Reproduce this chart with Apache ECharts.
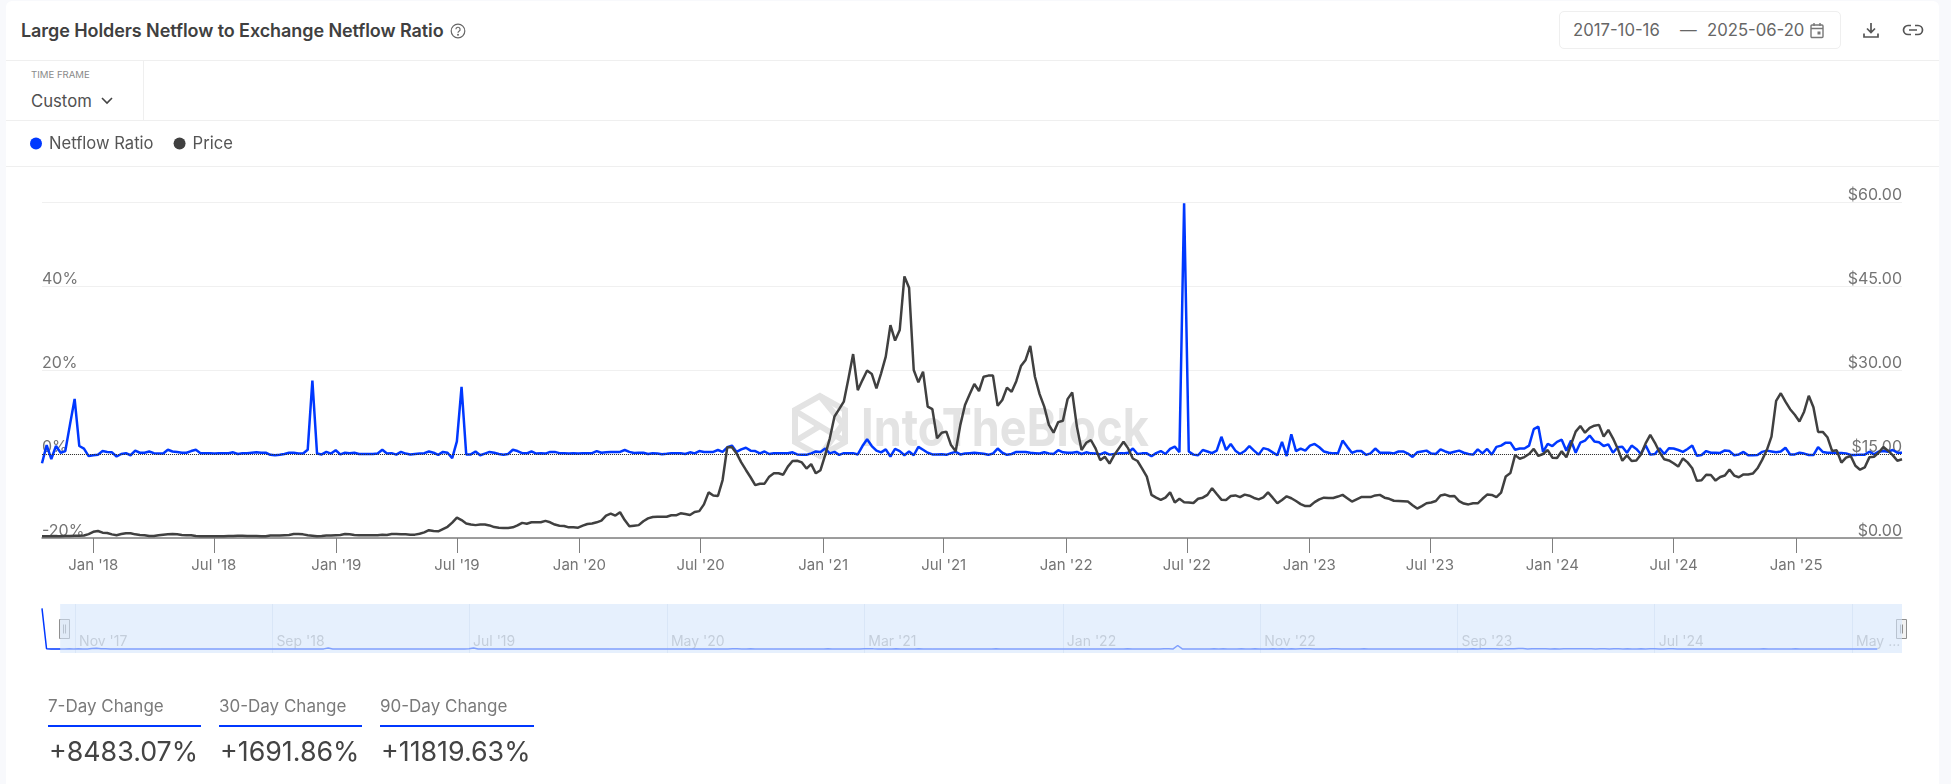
<!DOCTYPE html>
<html>
<head>
<meta charset="utf-8">
<title>Large Holders Netflow to Exchange Netflow Ratio</title>
<script src="https://cdn.jsdelivr.net/npm/echarts@6/dist/echarts.min.js"></script>
<style>
  html, body { margin: 0; padding: 0; width: 1951px; height: 784px; overflow: hidden; background: #f8f9fc; font-family: Inter, sans-serif; color: #444; }
  #card { position: absolute; left: 6px; top: 1px; width: 1933px; height: 783px; background: #fff; border-radius: 6px 6px 0 0; }
  #chart { position: absolute; left: 0; top: 0; width: 1951px; height: 784px; }
  .abs { position: absolute; white-space: nowrap; }
  .rule { position: absolute; background: #efefef; }
  .title { left: 21px; top: 19px; font-size: 18px; font-weight: 600; line-height: 24px; color: #404040; letter-spacing: -0.08px; }
  .small { left: 31px; top: 69px; font-size: 9.6px; line-height: 12px; color: #8a8a8a; }
  .custom { left: 31px; top: 91px; font-size: 16.7px; line-height: 20px; color: #505050; }
  .datebox { left: 1559px; top: 11px; width: 280px; height: 36px; border: 1px solid #efefef; border-radius: 5px; }
  .date { top: 20px; font-size: 16.7px; line-height: 20px; color: #666; }
  .statlabel { top: 696px; font-size: 17px; line-height: 20px; color: #7a7a7a; }
  .statline { top: 725px; height: 2px; background: #0038ff; }
  .statvalue { top: 734px; font-size: 26.8px; line-height: 34px; color: #444; }
</style>
</head>
<body>
<div id="card"></div>
<div class="rule" style="left:6px;top:60px;width:1933px;height:1px"></div>
<div class="rule" style="left:6px;top:120px;width:1933px;height:1px"></div>
<div class="rule" style="left:6px;top:166px;width:1933px;height:1px"></div>
<div class="rule" style="left:143px;top:60px;width:1px;height:60px"></div>

<div class="abs title">Large Holders Netflow to Exchange Netflow Ratio</div>
<svg class="abs" style="left:450px;top:23px" width="16" height="16" viewBox="0 0 16 16" fill="none" stroke="#666" stroke-width="1.2">
  <circle cx="8" cy="8" r="6.8"/><path d="M5.9 6.3a2.1 2.1 0 1 1 3.1 1.9c-.7.4-1 .8-1 1.6"/><circle cx="8" cy="11.8" r=".4" fill="#666"/>
</svg>
<div class="abs small">TIME FRAME</div>
<div class="abs custom">Custom</div>
<svg class="abs" style="left:100px;top:96px" width="14" height="10" viewBox="0 0 14 10" fill="none" stroke="#444" stroke-width="1.6"><path d="M2 2l5 5 5-5"/></svg>

<div class="abs datebox"></div>
<div class="abs date" style="left:1573px">2017-10-16</div>
<div class="abs date" style="left:1680px">—</div>
<div class="abs date" style="left:1707px">2025-06-20</div>
<svg class="abs" style="left:1809px;top:22px" width="16" height="17" viewBox="0 0 16 17" fill="none" stroke="#777" stroke-width="1.4">
  <rect x="2" y="3" width="12" height="12.5" rx="1"/><path d="M2 6.5h12M5 1v3M11 1v3"/><rect x="8.5" y="9.5" width="3" height="3" fill="#777" stroke="none"/>
</svg>
<svg class="abs" style="left:1862px;top:21px" width="18" height="18" viewBox="0 0 18 18" fill="none" stroke="#555" stroke-width="1.7">
  <path d="M9 2v9M5 7.5L9 11.5l4-4M2 12.5V16h14v-3.5"/>
</svg>
<svg class="abs" style="left:1902px;top:23px" width="22" height="14" viewBox="0 0 22 14" fill="none" stroke="#555" stroke-width="1.7">
  <path d="M9 2.5H6a4.5 4.5 0 0 0 0 9h3M13 2.5h3a4.5 4.5 0 0 1 0 9h-3M7 7h8"/>
</svg>

<div id="chart"></div>

<div class="abs statlabel" style="left:48px">7-Day Change</div>
<div class="abs statline" style="left:48px;width:153px"></div>
<div class="abs statvalue" style="left:49px">+8483.07%</div>
<div class="abs statlabel" style="left:219px">30-Day Change</div>
<div class="abs statline" style="left:219px;width:143px"></div>
<div class="abs statvalue" style="left:220px">+1691.86%</div>
<div class="abs statlabel" style="left:380px">90-Day Change</div>
<div class="abs statline" style="left:380px;width:154px"></div>
<div class="abs statvalue" style="left:381px">+11819.63%</div>

<script>
// weekly readings starting 2017-10-16
const netflowRatio = [
  -2.2, 2.1, -1.2, 1.9, .3, .7, 7, 13.1, 1.9, 1.3,
  -.5, -.3, -.2, .7, .5, .4, -.6, 0, .2, -.3,
  .8, .3, .3, .6, .2, .1, .1, 1, .6, .5,
  .3, .3, .7, 1, .2, .2, .15, .1, .2, .2,
  .2, .4, 0, .2, .2, .3, .4, .3, .3, -.2,
  -.3, -.2, 0, .3, .3, .1, .1, 1, 17.5, .1,
  -.1, .5, .1, .9, -.1, .3, .2, .3, 0, 0,
  0, 0, .1, 1, .1, .2, -.15, .5, .1, -.1,
  0, .1, .2, .6, .3, -.2, .5, .3, -1, 3,
  16, -.1, -.1, .6, -.3, .1, .5, .3, 0, -.2,
  0, 1, .7, .2, .15, .6, .1, .15, .1, .5,
  .5, .2, .2, .1, .15, .1, .15, .2, .2, .7,
  .3, .4, .5, .5, .5, .95, .5, .25, .3, .3,
  0, .2, .1, -.05, .05, .2, .2, .2, 0, .4,
  .15, .7, .5, .5, .5, .95, .5, 1.6, 2, .5,
  1.1, 1.5, .8, .7, .15, .6, 0, .2, .2, .2,
  .2, .4, -.1, -.2, -.2, .15, .6, .5, 1.3, .15,
  .5, -.2, .2, .2, .2, -.1, 1.9, 3.5, 1.9, .8,
  .4, 1.1, -.6, 1.2, .7, -.3, .6, -.3, 1.7, 1,
  .3, -.1, -.1, -.05, -.2, .2, .5, -.1, .1, .2,
  .3, .2, .05, -.2, .1, 1.3, .3, -.2, 0, .5,
  .5, .5, .3, .2, .1, .4, .15, 0, .9, .4,
  .3, .3, .5, 0, .4, .15, .1, -.1, .4, -.15,
  0, .15, .15, .3, 1.3, 0, .15, .15, -.55, .2,
  .7, 0, 1.2, 1.75, .4, 59.7, .6, -.15, -.3, .95,
  .6, .2, .8, 4.1, .95, 2.4, .8, 0, .7, 1.9,
  .8, -.15, 1.4, 1.1, .4, -.3, 2.9, -.5, 4.7, .7,
  1.3, .8, 2, 2.4, 1.6, .6, .3, .15, .15, 3.2,
  1.7, .3, .7, .7, -.2, .15, 1.3, .3, .3, .3,
  .15, .6, .6, .1, -.7, .4, .6, .8, .1, 0,
  1.1, .6, .25, .55, .8, .3, 0, -.15, 1.1, .15,
  1.2, -.15, 1.7, 2, 2.7, 2.7, 1, 1.3, 1.3, 2,
  5.9, 6.5, .5, 2.4, 1.9, 2.9, 3.4, .8, 3.2, .3,
  2.7, 3.2, 4.4, 3, 2.8, 1.9, 2.3, .3, 1.6, 1.75,
  .3, 2, 1.2, 0, 2.1, -.15, 0, 1.35, 0, 1.35,
  1.3, .95, .5, 1.2, 2, -.4, -.25, .7, .3, .3,
  .25, .85, .7, -.3, -.1, .5, -.3, -.3, -.25, .5,
  .8, .6, .4, .6, 1.5, -.1, -.1, .3, .1, -.25,
  -.25, 1.65, .5, .3, .3, .25, .25, .15, -.25, -.25,
  -.15, -.15, .55, -.1, .55, .7, .55, .95, .3, .3
];

const tokenPrice = [
  .3, .3, .3, .3, .3, .35, .35, .4, .4, .45,
  .7, 1.1, 1.25, .95, .9, .65, .5, .7, .85, .85,
  .65, .55, .5, .35, .35, .5, .6, .65, .7, .65,
  .55, .5, .5, .35, .3, .3, .3, .3, .3, .3,
  .35, .35, .4, .4, .35, .35, .35, .3, .3, .45,
  .45, .45, .5, .55, .7, .7, .65, .5, .4, .3,
  .35, .45, .45, .5, .55, .7, .65, .55, .5, .5,
  .5, .5, .5, .6, .55, .7, .7, .65, .65, .6,
  .6, .75, 1, 1.4, 1.25, 1.2, 1.6, 2, 2.75, 3.65,
  3.2, 2.6, 2.4, 2.3, 2.4, 2.4, 2.25, 1.95, 1.85, 1.8,
  1.8, 1.9, 2.25, 2.7, 2.55, 2.8, 2.8, 2.8, 3.05, 2.8,
  2.4, 2.2, 2.15, 1.9, 1.9, 1.85, 2.2, 2.5, 2.6, 2.8,
  3.1, 4, 4.35, 4, 4.6, 3.2, 2.1, 2.2, 2.3, 3,
  3.5, 3.75, 3.8, 3.8, 3.8, 4.05, 4.05, 4.4, 4.3, 4.1,
  4.65, 4.8, 6, 8.15, 7.6, 7.5, 10.35, 16.2, 16.2, 15.1,
  13.5, 12.15, 10.85, 9.45, 9.7, 9.7, 10.95, 11.55, 11.55, 11.3,
  12.75, 13.75, 13.8, 13.5, 12.4, 13.2, 11.55, 12.1, 14.8, 17.8,
  21.7, 23, 24.35, 28.5, 32.85, 26.4, 28.2, 29.9, 29.3, 26.7,
  29.4, 32.4, 38, 35.25, 37.15, 46.7, 44.7, 30, 27.8, 29.7,
  23.45, 23, 17.8, 18.8, 19, 16.6, 15.5, 20.2, 23.75, 25.65,
  27.5, 26.25, 28.8, 29, 29, 23.6, 24.65, 26.85, 26.1, 28,
  30.7, 31.8, 34.3, 28.8, 25.7, 23.45, 20.2, 18.8, 20.7, 20.95,
  24.8, 26, 19.9, 15.7, 17, 17.5, 16, 13.9, 14.5, 13.3,
  14.8, 16, 17.2, 16, 14.2, 13.75, 12.4, 10.95, 7.7, 7.2,
  6.8, 7.2, 8.15, 6.35, 7, 6.4, 6.35, 6.25, 7, 7.2,
  7.7, 8.9, 7.85, 6.85, 6.8, 7.5, 7.6, 7.3, 7.75, 7.55,
  7.15, 6.9, 7.25, 8.15, 7.2, 6.2, 6.8, 7.45, 7.1, 6.6,
  6.05, 5.7, 5.7, 6.4, 6.9, 7.2, 7.15, 7.15, 7.4, 7.7,
  7.1, 6.5, 6.9, 7.3, 7.3, 7.3, 7.6, 7.7, 7.2, 7,
  6.65, 6.6, 6.55, 6.5, 5.85, 5.25, 5.7, 6.2, 6.35, 6.6,
  7.6, 7.75, 7.45, 7.5, 6.6, 6.15, 6, 6.2, 6.2, 7,
  7.75, 7.7, 7.3, 8.1, 11, 11.6, 14.8, 14.15, 14.45, 15,
  15.9, 14.65, 15, 15.7, 14.35, 14.3, 15.5, 14.4, 16.7, 19,
  20, 18.8, 19.65, 20.05, 20.2, 18.1, 19.3, 17.8, 16, 13.8,
  14.75, 13.75, 13.85, 14.9, 16.9, 18.4, 17, 15.3, 14.05, 13.85,
  13.35, 12.75, 14.2, 13.5, 12.45, 10.2, 10.3, 11.3, 11.25, 10.25,
  10.9, 11.15, 12.25, 11.15, 10.85, 11.35, 11.35, 11.5, 12.45, 13.95,
  15.7, 18.1, 24.5, 25.85, 24.35, 23, 22, 20.8, 22.55, 25.4,
  23.35, 18.95, 18.95, 18, 15.55, 15.65, 13.45, 14.35, 14.65, 12.9,
  12.2, 12.6, 14.4, 14.5, 15.25, 16.25, 15.6, 14.8, 13.8, 14.05
];

// the navigator also shows the five weeks before the selected range
const navigatorLead = [700, 3, 1, 0, 0];

const tickDates = ['2018-01-01', '2018-07-01', '2019-01-01', '2019-07-01', '2020-01-01', '2020-07-01', '2021-01-01',
  '2021-07-01', '2022-01-01', '2022-07-01', '2023-01-01', '2023-07-01', '2024-01-01', '2024-07-01', '2025-01-01'];
const tickLabels = ["Jan '18", "Jul '18", "Jan '19", "Jul '19", "Jan '20", "Jul '20", "Jan '21",
  "Jul '21", "Jan '22", "Jul '22", "Jan '23", "Jul '23", "Jan '24", "Jul '24", "Jan '25"];
const navDates = ['2017-11-01', '2018-09-01', '2019-07-01', '2020-05-01', '2021-03-01', '2022-01-01', '2022-11-01',
  '2023-09-01', '2024-07-01', '2025-05-01'];
const navLabels = ["Nov '17", "Sep '18", "Jul '19", "May '20", "Mar '21", "Jan '22", "Nov '22", "Sep '23", "Jul '24", "May ..."];

const DAY = 86400000;
const day = s => new Date(s + 'T00:00:00Z').getTime();
const startDate = day('2017-10-16');
const weeks = netflowRatio.map((_, i) => startDate + i * 7 * DAY);
const navStart = startDate - navigatorLead.length * 7 * DAY;
const navEnd = day('2025-07-17');
const navRatio = navigatorLead.concat(netflowRatio);

const BLUE = '#0038ff';
const DARK = '#404040';
const FONT = 'Inter, sans-serif';

const chart = echarts.init(document.getElementById('chart'));

const handle = (x) => ({
  type: 'group', left: x, top: 619, z: 20, silent: true,
  children: [
    { type: 'rect', shape: { x: 0, y: 0, width: 10, height: 19 }, style: { fill: '#f2f2f2', stroke: '#8f8f8f', lineWidth: 1 } },
    { type: 'line', shape: { x1: 4, y1: 5, x2: 4, y2: 14 }, style: { stroke: '#8f8f8f', lineWidth: 1 } },
    { type: 'line', shape: { x1: 6, y1: 5, x2: 6, y2: 14 }, style: { stroke: '#8f8f8f', lineWidth: 1 } }
  ]
});

// watermark logo + name, sits behind the lines
const wm = '#e3e3e3';
const watermark = [
  { type: 'polygon', shape: { points: [[820, 396], [845, 410], [845, 442], [820, 456], [795, 442], [795, 410]] }, style: { fill: 'none', stroke: wm, lineWidth: 6 } },
  { type: 'polyline', shape: { points: [[797, 412], [843, 440]] }, style: { fill: 'none', stroke: wm, lineWidth: 6 } },
  { type: 'polyline', shape: { points: [[820, 396], [843, 424], [820, 456]] }, style: { fill: 'none', stroke: wm, lineWidth: 6 } },
  { type: 'polyline', shape: { points: [[797, 440], [820, 426]] }, style: { fill: 'none', stroke: wm, lineWidth: 6 } },
  { type: 'text', x: 861, y: 430, scaleY: 1.15, style: { text: 'IntoTheBlock', font: '700 45px Inter, sans-serif', fill: wm, textVerticalAlign: 'middle' } }
].map(el => Object.assign({ silent: true, z: 0 }, el));

chart.setOption({
  animation: false,
  textStyle: { fontFamily: FONT },
  legend: {
    data: ['Netflow Ratio', 'Price'],
    left: 30, top: 135, padding: 0,
    icon: 'circle', itemWidth: 12, itemHeight: 12, itemGap: 20,
    textStyle: { fontFamily: FONT, fontSize: 16.6, color: '#555', padding: [0, 0, 0, 2] }
  },
  grid: [
    { left: 42, right: 49, top: 202, height: 336 },
    { left: 42, right: 49, top: 604, height: 49 }
  ],
  xAxis: [
    {
      type: 'value', gridIndex: 0, min: weeks[0], max: weeks[weeks.length - 1],
      axisLine: { onZero: false, lineStyle: { color: '#7f7f7f', width: 1.5 } },
      axisTick: { show: true, length: 15, lineStyle: { color: '#7f7f7f', width: 1 }, customValues: tickDates.map(day) },
      axisLabel: {
        customValues: tickDates.map(day), margin: 20, color: '#747474', fontSize: 15, fontFamily: FONT,
        hideOverlap: false,
        formatter: v => tickLabels[tickDates.map(day).indexOf(+v)]
      },
      splitLine: { show: false }
    },
    {
      type: 'value', gridIndex: 1, min: navStart, max: navEnd,
      axisLine: { show: false, onZero: false },
      axisTick: { show: false, customValues: navDates.map(day) },
      axisLabel: {
        customValues: navDates.map(day), inside: true, margin: 4, color: '#aaa', fontSize: 14, fontFamily: FONT,
        align: 'left', padding: [0, 0, 0, 4], hideOverlap: false,
        formatter: v => navLabels[navDates.map(day).indexOf(+v)]
      },
      splitLine: { show: true, lineStyle: { color: '#dfe6f0', width: 1 } }
    }
  ],
  yAxis: [
    {
      type: 'value', gridIndex: 0, min: -20, max: 60, interval: 20,
      axisLine: { show: false }, axisTick: { show: false },
      axisLabel: {
        inside: true, margin: 0, verticalAlign: 'bottom', padding: [0, 0, -1, 0], color: '#747474', fontSize: 16, fontFamily: FONT,
        formatter: v => (v === 60 ? '' : v + '%')
      },
      splitLine: { lineStyle: { color: '#f0f0f0', width: 1 } }
    },
    {
      type: 'value', gridIndex: 0, position: 'right', min: 0, max: 60, interval: 15,
      axisLine: { show: false }, axisTick: { show: false },
      axisLabel: {
        inside: true, margin: 0, verticalAlign: 'bottom', padding: [0, 0, -1, 0], color: '#747474', fontSize: 16, fontFamily: FONT,
        formatter: v => '$' + v.toFixed(2)
      },
      splitLine: { show: false }
    },
    { type: 'value', gridIndex: 1, min: -70, max: 775, show: false }
  ],
  series: [
    {
      name: 'Netflow Ratio', type: 'line', xAxisIndex: 0, yAxisIndex: 0,
      data: weeks.map((t, i) => [t, netflowRatio[i]]),
      showSymbol: false, symbol: 'circle', color: BLUE,
      lineStyle: { color: BLUE, width: 2.5 },
      markLine: {
        silent: true, symbol: 'none', label: { show: false },
        lineStyle: { color: '#333', type: 'dotted', width: 1 },
        data: [{ yAxis: 0 }]
      }
    },
    {
      name: 'Price', type: 'line', xAxisIndex: 0, yAxisIndex: 1,
      data: weeks.map((t, i) => [t, tokenPrice[i]]),
      showSymbol: false, symbol: 'circle', color: DARK,
      lineStyle: { color: DARK, width: 2.5 }
    },
    {
      name: 'Navigator', type: 'line', xAxisIndex: 1, yAxisIndex: 2,
      data: navRatio.map((v, i) => [navStart + i * 7 * DAY, v]),
      showSymbol: false, silent: true,
      lineStyle: { color: BLUE, width: 1.5 },
      markArea: {
        silent: true, z: 5,
        itemStyle: { color: 'rgba(213,230,252,0.6)' },
        data: [[{ xAxis: startDate - 7 * DAY }, { xAxis: navEnd }]]
      }
    }
  ],
  graphic: watermark.concat([handle(59), handle(1896)])
});
</script>
</body>
</html>
